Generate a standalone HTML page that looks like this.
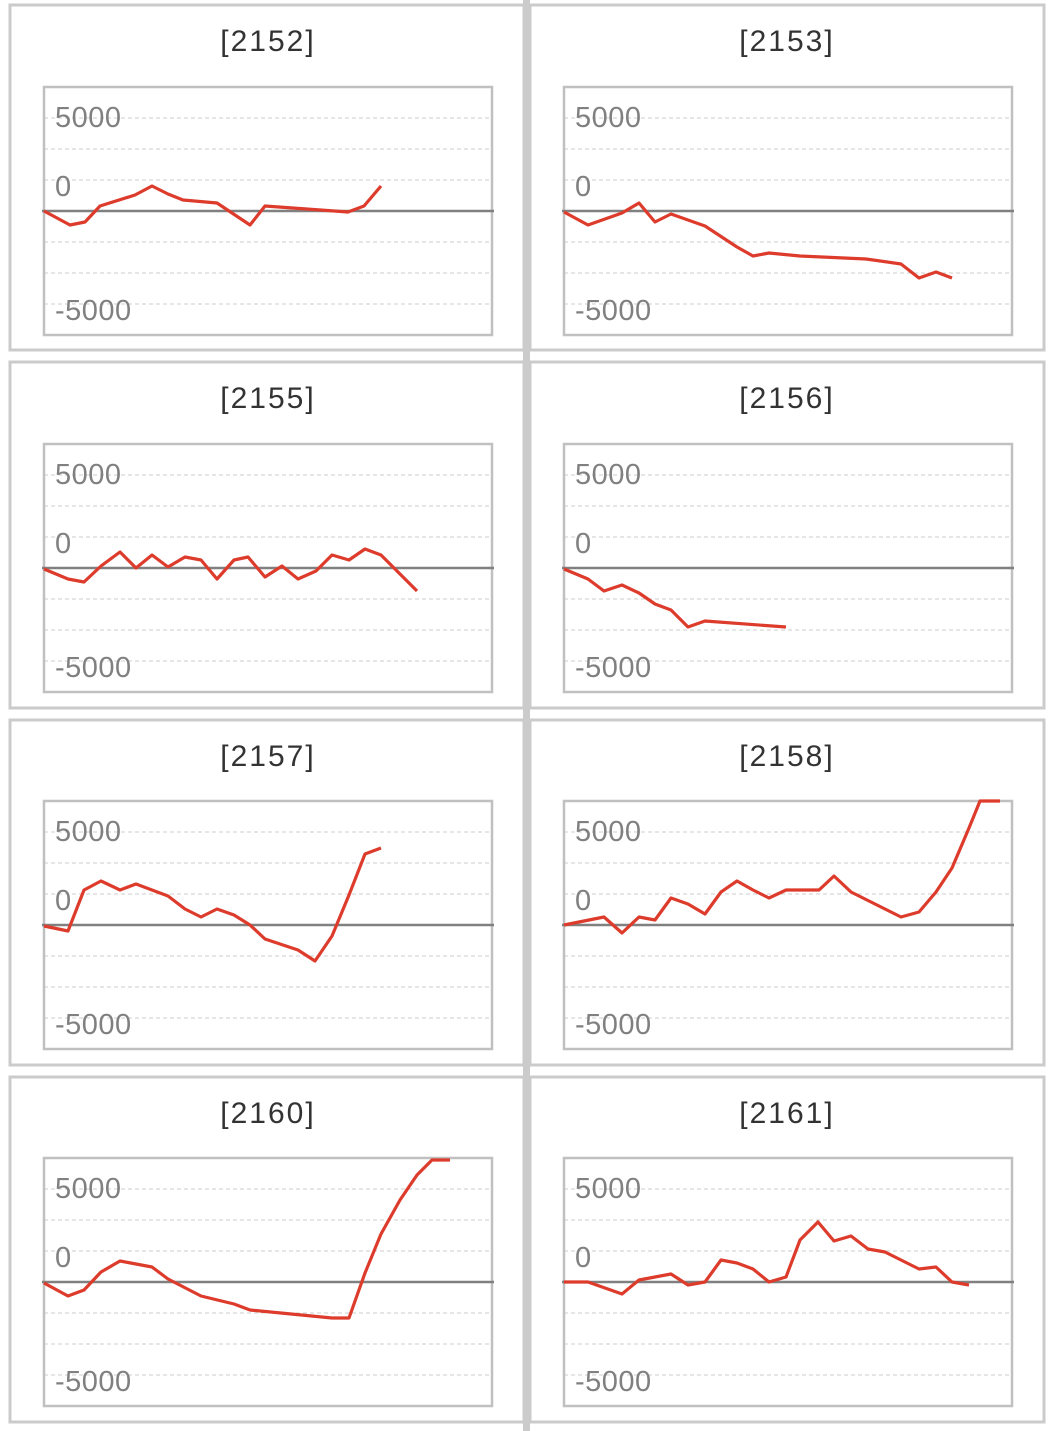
<!DOCTYPE html>
<html><head><meta charset="utf-8"><style>
html,body{margin:0;padding:0;background:#fff;}
svg{display:block;}
text{font-family:"Liberation Sans","Noto Sans CJK JP",sans-serif;}
.t{font-size:30px;fill:#333;text-anchor:middle;letter-spacing:2px;}
.l{font-size:29px;fill:#808080;letter-spacing:0.5px;}
.g{stroke:#cccccc;stroke-width:1;stroke-dasharray:4,3;}
.z{stroke:#808080;stroke-width:2.5;}
.b{fill:none;stroke:#c0c0c0;stroke-width:2.5;}
.s{fill:none;stroke:#dd3b2b;stroke-width:3.2;stroke-linejoin:round;}
.p{fill:none;stroke:#cbcbcb;stroke-width:3;}
</style></head><body>
<svg width="1056" height="1431" viewBox="0 0 1056 1431">
<defs>
<g id="ax">
<line class="g" x1="44" x2="492" y1="118" y2="118"/>
<line class="g" x1="44" x2="492" y1="149" y2="149"/>
<line class="g" x1="44" x2="492" y1="180" y2="180"/>
<line class="g" x1="44" x2="492" y1="242" y2="242"/>
<line class="g" x1="44" x2="492" y1="273" y2="273"/>
<line class="g" x1="44" x2="492" y1="304" y2="304"/>
<rect class="b" x="44" y="87" width="448" height="248"/>
<line class="z" x1="42" x2="494" y1="211" y2="211"/>
<text class="l" x="55" y="127">5000</text>
<text class="l" x="55" y="196">0</text>
<text class="l" x="55" y="320">-5000</text>
</g>
</defs>
<rect class="p" x="10" y="5" width="514" height="345"/>
<rect class="p" x="530" y="5" width="514" height="345"/>
<rect class="p" x="10" y="362" width="514" height="346"/>
<rect class="p" x="530" y="362" width="514" height="346"/>
<rect class="p" x="10" y="720" width="514" height="345"/>
<rect class="p" x="530" y="720" width="514" height="345"/>
<rect class="p" x="10" y="1077" width="514" height="345"/>
<rect class="p" x="530" y="1077" width="514" height="345"/>
<rect x="523" y="0" width="7" height="1431" fill="#cbcbcb"/>

<use href="#ax"/><use href="#ax" x="520"/>
<use href="#ax" y="357"/><use href="#ax" x="520" y="357"/>
<use href="#ax" y="714"/><use href="#ax" x="520" y="714"/>
<use href="#ax" y="1071"/><use href="#ax" x="520" y="1071"/>

<text class="t" x="268" y="51">[2152]</text>
<text class="t" x="787" y="51">[2153]</text>
<text class="t" x="268" y="408">[2155]</text>
<text class="t" x="787" y="408">[2156]</text>
<text class="t" x="268" y="766">[2157]</text>
<text class="t" x="787" y="766">[2158]</text>
<text class="t" x="268" y="1123">[2160]</text>
<text class="t" x="787" y="1123">[2161]</text>

<polyline class="s" points="44,211 70,225 85,222 100,206 135,195 152,186 168,194 183,200 217,203 250,225 265,206 348,212 364,206 381,186"/>
<polyline class="s" points="564,212 588,225 622,213 639,203 655,222 671,214 705,226 737,247 753,256 769,253 800,256 866,259 901,264 919,278 936,272 952,278"/>
<polyline class="s" points="44,569 68,579 84,582 101,566 120,552 136,568 152,555 168,567 185,557 201,560 217,579 234,560 248,557 265,577 282,566 298,579 316,571 332,555 349,560 365,549 381,555 417,591"/>
<polyline class="s" points="564,569 588,579 604,591 622,585 639,593 655,604 671,610 688,627 705,621 786,627"/>
<polyline class="s" points="44,926 68,931 84,890 101,881 120,890 136,884 152,890 168,896 185,909 201,917 217,909 234,915 250,925 265,939 298,950 315,961 332,936 349,895 365,854 381,848"/>
<polyline class="s" points="564,925 604,917 622,933 639,917 655,920 671,898 688,904 705,914 721,892 737,881 753,890 769,898 786,890 819,890 834,876 851,892 901,917 919,912 936,892 952,868 969,828 980,801 1000,801"/>
<polyline class="s" points="44,1283 68,1296 84,1290 101,1272 120,1261 152,1267 168,1279 201,1296 234,1304 250,1310 332,1318 349,1318 365,1273 381,1234 400,1200 417,1175 432,1160 450,1160"/>
<polyline class="s" points="564,1282 588,1282 622,1294 639,1280 671,1274 688,1285 705,1282 721,1260 737,1263 753,1269 769,1282 786,1277 800,1240 818,1222 834,1241 851,1236 868,1249 885,1252 919,1269 936,1267 952,1282 969,1285"/>
</svg>
</body></html>
